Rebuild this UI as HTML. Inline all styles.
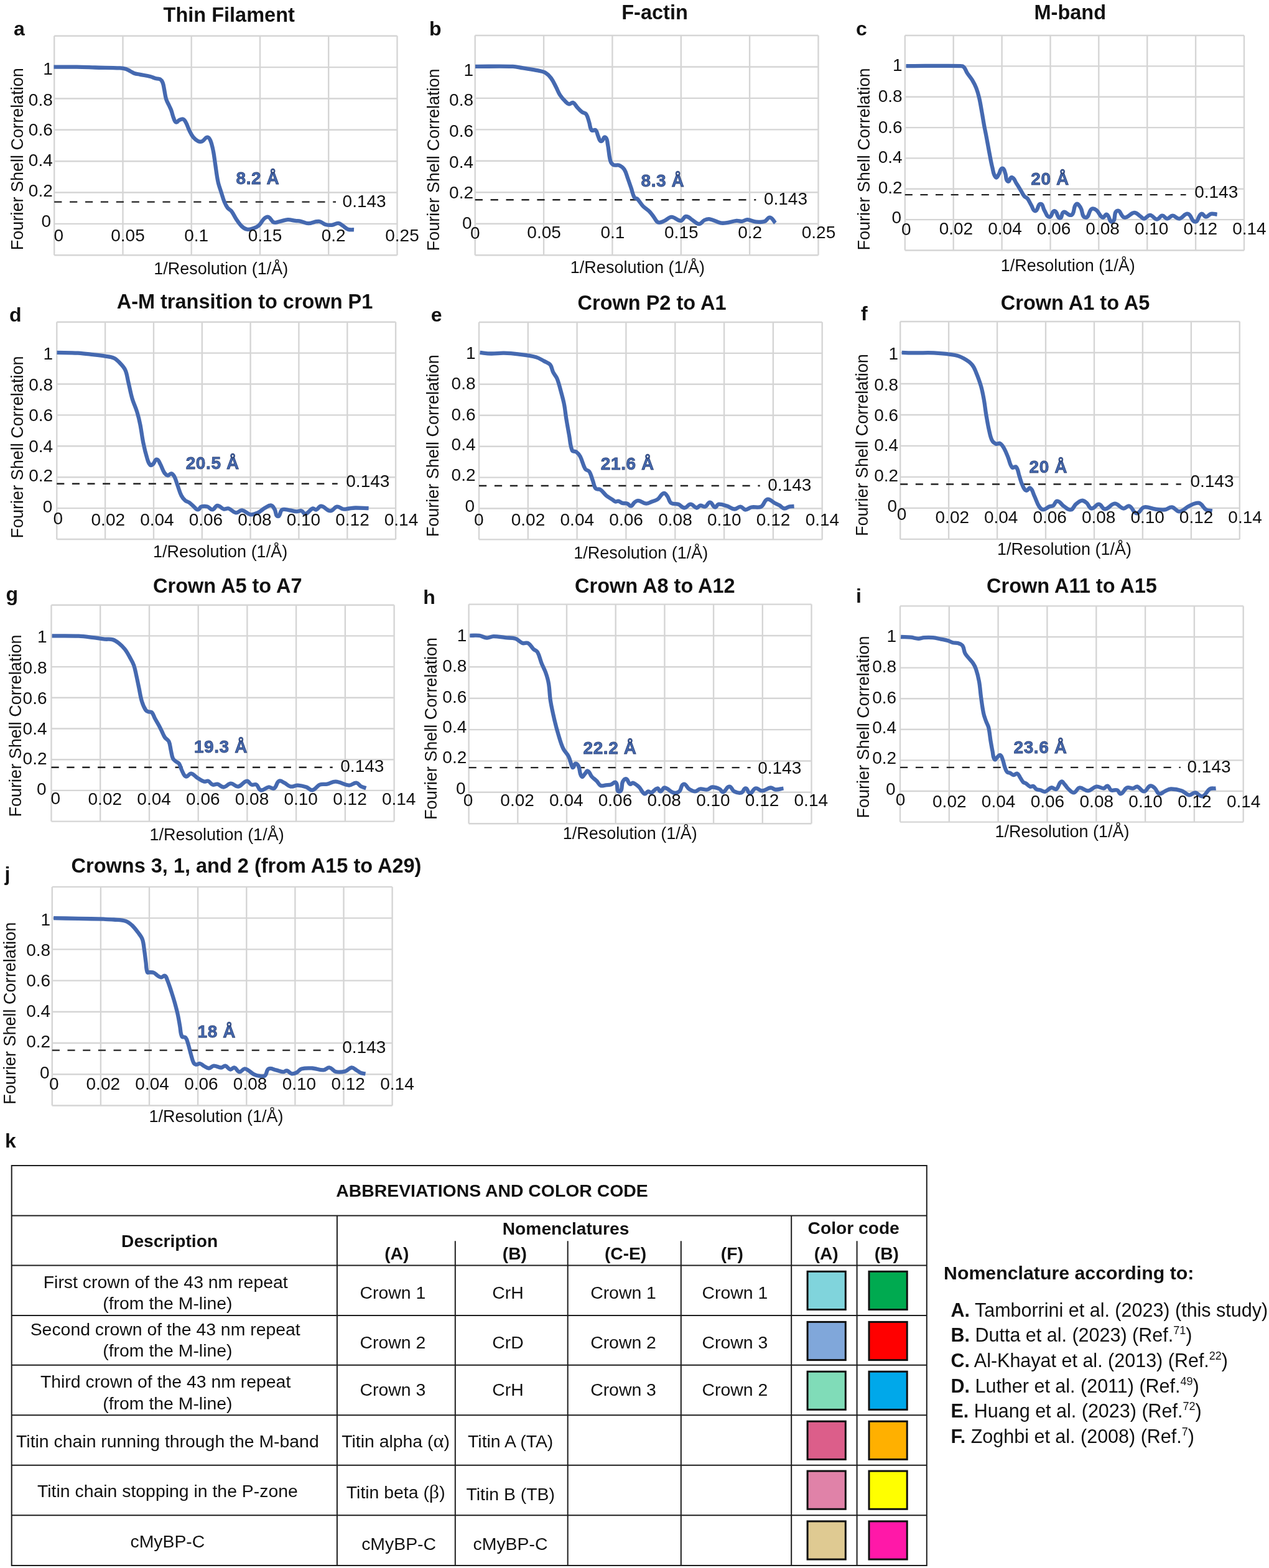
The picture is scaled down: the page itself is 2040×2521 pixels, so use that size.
<!DOCTYPE html>
<html><head><meta charset="utf-8"><title>FSC curves and nomenclature</title>
<style>
html,body{margin:0;padding:0;background:#fff;}
body{width:2040px;height:2521px;overflow:hidden;}
svg{display:block;font-family:'Liberation Sans', Arial, Helvetica, sans-serif;}
</style></head><body>
<svg width="2040" height="2521" viewBox="0 0 2040 2521">
<rect width="2040" height="2521" fill="#fff"/>
<g stroke="#d5d5d5" stroke-width="2.4" fill="none">
<line x1="87.2" y1="57.8" x2="87.2" y2="410.2"/>
<line x1="197.5" y1="57.8" x2="197.5" y2="410.2"/>
<line x1="307.7" y1="57.8" x2="307.7" y2="410.2"/>
<line x1="418.0" y1="57.8" x2="418.0" y2="410.2"/>
<line x1="528.2" y1="57.8" x2="528.2" y2="410.2"/>
<line x1="638.5" y1="57.8" x2="638.5" y2="410.2"/>
<line x1="87.2" y1="57.8" x2="638.5" y2="57.8"/>
<line x1="87.2" y1="108.1" x2="638.5" y2="108.1"/>
<line x1="87.2" y1="158.5" x2="638.5" y2="158.5"/>
<line x1="87.2" y1="208.8" x2="638.5" y2="208.8"/>
<line x1="87.2" y1="259.2" x2="638.5" y2="259.2"/>
<line x1="87.2" y1="309.5" x2="638.5" y2="309.5"/>
<line x1="87.2" y1="359.9" x2="638.5" y2="359.9"/>
<line x1="87.2" y1="410.2" x2="638.5" y2="410.2"/>
</g>
<line x1="87.2" y1="324.6" x2="540.0" y2="324.6" stroke="#222" stroke-width="2.4" stroke-dasharray="12.20 12.69"/>
<path d="M86.5,107.7 C99.8,107.7 110.2,107.5 123.5,107.7 C134.0,107.8 142.1,108.2 152.6,108.5 C167.1,108.9 178.4,108.7 192.9,109.4 C196.4,109.6 199.2,110.0 202.6,111.0 C205.1,111.7 206.7,113.0 209.0,114.2 C211.4,115.4 213.0,116.8 215.5,117.7 C218.9,118.9 221.7,119.1 225.2,119.8 C231.0,121.0 235.6,121.6 241.3,123.0 C244.9,123.9 247.4,125.3 251.0,126.3 C253.3,126.9 255.4,126.2 257.4,127.4 C259.5,128.7 260.6,130.5 261.5,132.7 C263.0,136.3 263.1,139.4 263.9,143.2 C265.1,149.0 265.4,153.7 267.1,159.4 C268.3,163.3 270.2,166.1 271.9,169.8 C273.1,172.4 274.2,174.4 275.2,177.1 C276.9,181.7 277.3,185.5 279.2,190.0 C280.2,192.5 280.6,195.6 283.2,196.5 C285.2,197.2 286.1,194.0 288.0,193.2 C290.2,192.2 292.3,190.7 294.5,191.6 C297.2,192.7 298.0,195.5 299.4,198.0 C301.5,201.9 302.2,205.4 304.2,209.4 C306.3,213.6 307.7,217.0 310.6,220.6 C313.0,223.5 315.3,225.6 318.7,227.1 C320.8,228.1 323.1,228.1 325.2,227.1 C328.6,225.6 329.5,221.1 333.2,220.6 C335.7,220.3 337.1,223.2 338.1,225.5 C340.7,231.6 341.6,236.7 342.9,243.2 C344.4,250.7 344.9,256.6 346.1,264.2 C347.6,274.1 348.3,282.0 350.4,291.8 C351.7,298.2 353.7,302.9 355.6,309.1 C357.4,314.7 358.5,319.2 360.7,324.7 C362.2,328.3 363.5,331.1 365.9,334.2 C367.7,336.5 370.3,337.1 372.0,339.4 C375.3,343.7 376.7,347.8 379.7,352.3 C382.6,356.6 384.7,360.1 388.4,363.6 C391.0,366.1 393.5,368.1 397.0,368.7 C400.7,369.4 403.8,368.1 407.4,367.0 C410.7,366.0 413.4,365.0 416.0,362.7 C419.8,359.3 420.9,354.9 424.7,351.5 C426.7,349.7 429.1,347.9 431.6,348.9 C435.7,350.5 436.1,356.0 440.2,357.5 C443.8,358.8 446.9,356.5 450.6,355.8 C455.0,355.0 458.2,353.4 462.7,353.2 C467.1,353.0 470.4,354.4 474.8,354.9 C477.9,355.3 480.4,355.2 483.4,355.8 C487.8,356.7 491.0,359.2 495.5,359.2 C501.8,359.2 506.5,355.4 512.8,355.8 C517.0,356.1 519.2,359.8 523.2,361.0 C526.8,362.0 529.8,362.2 533.5,361.8 C537.4,361.4 540.0,358.7 543.9,358.9 C546.7,359.0 548.4,361.2 550.8,362.7 C554.0,364.7 555.9,367.4 559.5,368.7 C562.7,369.9 565.6,369.1 569.0,369.3" fill="none" stroke="#4569b0" stroke-width="6.3" stroke-linejoin="round" stroke-linecap="butt"/>
<text x="84.8" y="119.5" font-size="28" text-anchor="end" fill="#111">1</text>
<text x="84.8" y="169.5" font-size="28" text-anchor="end" fill="#111">0.8</text>
<text x="84.8" y="218.0" font-size="28" text-anchor="end" fill="#111">0.6</text>
<text x="84.8" y="266.5" font-size="28" text-anchor="end" fill="#111">0.4</text>
<text x="84.8" y="315.5" font-size="28" text-anchor="end" fill="#111">0.2</text>
<text x="82.0" y="364.9" font-size="28" text-anchor="end" fill="#111">0</text>
<text x="94.3" y="388.0" font-size="28" text-anchor="middle" fill="#111">0</text>
<text x="205.5" y="388.1" font-size="28" text-anchor="middle" fill="#111">0.05</text>
<text x="315.7" y="388.1" font-size="28" text-anchor="middle" fill="#111">0.1</text>
<text x="426.0" y="388.1" font-size="28" text-anchor="middle" fill="#111">0.15</text>
<text x="536.2" y="388.1" font-size="28" text-anchor="middle" fill="#111">0.2</text>
<text x="646.5" y="388.1" font-size="28" text-anchor="middle" fill="#111">0.25</text>
<text transform="translate(37.2,255.7) rotate(-90)" font-size="28.3" textLength="293" lengthAdjust="spacingAndGlyphs" text-anchor="middle" fill="#111">Fourier Shell Correlation</text>
<text x="355.3" y="441.4" font-size="27" text-anchor="middle" fill="#111">1/Resolution (1/Å)</text>
<text x="368.2" y="35.3" font-size="32.5" font-weight="700" text-anchor="middle" fill="#111">Thin Filament</text>
<text x="22.0" y="57.0" font-size="32" font-weight="700" text-anchor="start" fill="#111">a</text>
<text x="379.5" y="296.2" font-size="28" font-weight="700" text-anchor="start" fill="#4569b0" stroke="#2a3f70" stroke-width="0.8" letter-spacing="0.6">8.2 Å</text>
<text x="550.6" y="333.3" font-size="28" text-anchor="start" fill="#111">0.143</text>
<g stroke="#d5d5d5" stroke-width="2.4" fill="none">
<line x1="763.7" y1="57.0" x2="763.7" y2="410.2"/>
<line x1="874.1" y1="57.0" x2="874.1" y2="410.2"/>
<line x1="984.4" y1="57.0" x2="984.4" y2="410.2"/>
<line x1="1094.8" y1="57.0" x2="1094.8" y2="410.2"/>
<line x1="1205.1" y1="57.0" x2="1205.1" y2="410.2"/>
<line x1="1315.5" y1="57.0" x2="1315.5" y2="410.2"/>
<line x1="763.7" y1="57.0" x2="1315.5" y2="57.0"/>
<line x1="763.7" y1="107.5" x2="1315.5" y2="107.5"/>
<line x1="763.7" y1="157.9" x2="1315.5" y2="157.9"/>
<line x1="763.7" y1="208.4" x2="1315.5" y2="208.4"/>
<line x1="763.7" y1="258.8" x2="1315.5" y2="258.8"/>
<line x1="763.7" y1="309.3" x2="1315.5" y2="309.3"/>
<line x1="763.7" y1="359.7" x2="1315.5" y2="359.7"/>
<line x1="763.7" y1="410.2" x2="1315.5" y2="410.2"/>
</g>
<line x1="763.7" y1="321.2" x2="1215.3" y2="321.2" stroke="#222" stroke-width="2.4" stroke-dasharray="12.21 12.71"/>
<path d="M764.0,106.9 C785.8,106.9 802.7,106.2 824.5,106.9 C830.4,107.1 834.8,108.5 840.6,109.4 C849.3,110.8 856.1,111.6 864.8,113.4 C868.9,114.2 872.4,114.5 876.1,116.6 C880.2,119.0 882.9,121.7 885.8,125.5 C889.4,130.3 891.1,134.7 893.9,140.0 C896.3,144.6 897.5,148.5 900.3,152.9 C902.8,156.7 905.2,159.4 908.4,162.6 C910.4,164.6 912.0,166.9 914.8,167.4 C917.3,167.9 919.0,164.1 921.3,165.0 C924.6,166.2 925.3,169.8 927.7,172.3 C930.5,175.3 932.5,177.8 935.8,180.3 C937.9,181.9 940.8,181.4 942.3,183.5 C945.2,187.6 945.5,191.8 947.1,196.5 C948.7,201.1 948.0,205.6 951.1,209.4 C952.6,211.2 955.9,207.8 957.6,209.4 C960.4,211.9 959.9,215.7 961.6,219.0 C963.1,222.0 963.1,226.6 966.5,227.1 C969.8,227.6 969.9,219.2 972.9,220.6 C976.8,222.4 976.0,227.7 976.9,231.9 C978.9,241.1 978.6,248.6 981.0,257.7 C981.8,260.7 983.1,263.5 985.8,265.0 C988.9,266.7 992.3,264.5 995.5,265.8 C998.9,267.2 1001.5,269.2 1003.5,272.3 C1006.6,277.0 1007.3,281.5 1009.2,286.8 C1011.3,292.6 1012.8,297.1 1014.8,302.9 C1016.6,308.1 1017.0,312.6 1019.7,317.4 C1020.7,319.1 1023.1,318.4 1024.5,319.8 C1028.3,323.6 1030.0,327.7 1033.8,331.6 C1037.2,335.1 1040.8,336.8 1044.2,340.2 C1047.0,343.0 1048.6,345.8 1051.1,348.9 C1053.6,352.0 1054.2,356.2 1058.0,357.5 C1061.6,358.8 1064.8,356.3 1068.4,354.9 C1072.6,353.2 1075.0,348.9 1079.6,348.9 C1085.3,348.9 1088.6,355.1 1094.3,354.9 C1098.3,354.7 1098.9,348.2 1102.9,348.0 C1107.2,347.8 1109.6,351.8 1113.3,354.0 C1117.1,356.2 1119.4,360.1 1123.7,360.1 C1127.5,360.1 1128.8,355.6 1132.3,354.0 C1135.2,352.7 1137.9,351.8 1141.0,352.3 C1147.5,353.4 1151.8,356.9 1158.2,358.4 C1161.2,359.1 1163.8,358.8 1166.9,358.4 C1173.2,357.6 1177.9,355.5 1184.2,354.9 C1187.3,354.6 1189.7,356.1 1192.8,355.8 C1196.0,355.5 1198.2,353.1 1201.4,353.2 C1206.5,353.4 1210.2,356.1 1215.3,356.6 C1220.2,357.1 1224.3,357.6 1229.1,356.1 C1232.8,355.0 1233.9,349.2 1237.7,349.7 C1242.1,350.3 1243.3,355.3 1246.4,358.4" fill="none" stroke="#4569b0" stroke-width="6.3" stroke-linejoin="round" stroke-linecap="butt"/>
<text x="761.0" y="121.8" font-size="28" text-anchor="end" fill="#111">1</text>
<text x="761.0" y="170.3" font-size="28" text-anchor="end" fill="#111">0.8</text>
<text x="761.0" y="220.3" font-size="28" text-anchor="end" fill="#111">0.6</text>
<text x="761.0" y="269.5" font-size="28" text-anchor="end" fill="#111">0.4</text>
<text x="761.0" y="318.7" font-size="28" text-anchor="end" fill="#111">0.2</text>
<text x="758.6" y="367.5" font-size="28" text-anchor="end" fill="#111">0</text>
<text x="763.7" y="383.9" font-size="28" text-anchor="middle" fill="#111">0</text>
<text x="874.6" y="382.9" font-size="28" text-anchor="middle" fill="#111">0.05</text>
<text x="984.9" y="382.9" font-size="28" text-anchor="middle" fill="#111">0.1</text>
<text x="1095.3" y="382.9" font-size="28" text-anchor="middle" fill="#111">0.15</text>
<text x="1205.6" y="382.9" font-size="28" text-anchor="middle" fill="#111">0.2</text>
<text x="1316.0" y="382.9" font-size="28" text-anchor="middle" fill="#111">0.25</text>
<text transform="translate(706.4,256.9) rotate(-90)" font-size="28.3" textLength="293" lengthAdjust="spacingAndGlyphs" text-anchor="middle" fill="#111">Fourier Shell Correlation</text>
<text x="1024.9" y="439.4" font-size="27" text-anchor="middle" fill="#111">1/Resolution (1/Å)</text>
<text x="1052.5" y="31.3" font-size="32.5" font-weight="700" text-anchor="middle" fill="#111">F-actin</text>
<text x="690.0" y="57.0" font-size="32" font-weight="700" text-anchor="start" fill="#111">b</text>
<text x="1030.5" y="299.6" font-size="28" font-weight="700" text-anchor="start" fill="#4569b0" stroke="#2a3f70" stroke-width="0.8" letter-spacing="0.6">8.3 Å</text>
<text x="1227.9" y="329.0" font-size="28" text-anchor="start" fill="#111">0.143</text>
<g stroke="#d5d5d5" stroke-width="2.4" fill="none">
<line x1="1454.8" y1="57.0" x2="1454.8" y2="402.5"/>
<line x1="1532.7" y1="57.0" x2="1532.7" y2="402.5"/>
<line x1="1610.6" y1="57.0" x2="1610.6" y2="402.5"/>
<line x1="1688.5" y1="57.0" x2="1688.5" y2="402.5"/>
<line x1="1766.3" y1="57.0" x2="1766.3" y2="402.5"/>
<line x1="1844.2" y1="57.0" x2="1844.2" y2="402.5"/>
<line x1="1922.1" y1="57.0" x2="1922.1" y2="402.5"/>
<line x1="2000.0" y1="57.0" x2="2000.0" y2="402.5"/>
<line x1="1454.8" y1="57.0" x2="2000.0" y2="57.0"/>
<line x1="1454.8" y1="106.4" x2="2000.0" y2="106.4"/>
<line x1="1454.8" y1="155.7" x2="2000.0" y2="155.7"/>
<line x1="1454.8" y1="205.1" x2="2000.0" y2="205.1"/>
<line x1="1454.8" y1="254.4" x2="2000.0" y2="254.4"/>
<line x1="1454.8" y1="303.8" x2="2000.0" y2="303.8"/>
<line x1="1454.8" y1="353.1" x2="2000.0" y2="353.1"/>
<line x1="1454.8" y1="402.5" x2="2000.0" y2="402.5"/>
</g>
<line x1="1454.8" y1="313.1" x2="1906.6" y2="313.1" stroke="#222" stroke-width="2.4" stroke-dasharray="12.06 12.55"/>
<path d="M1456.5,106.1 C1488.4,106.1 1513.3,105.3 1545.2,106.1 C1547.1,106.1 1548.7,107.0 1550.0,108.5 C1552.4,111.3 1552.8,114.3 1554.8,117.4 C1557.5,121.6 1560.3,124.4 1562.9,128.7 C1565.6,133.2 1567.5,136.8 1569.4,141.6 C1571.6,147.2 1572.8,151.8 1574.2,157.7 C1576.3,166.9 1577.3,174.2 1579.0,183.5 C1580.2,190.5 1581.0,195.9 1582.3,202.9 C1583.4,208.7 1584.4,213.2 1585.5,219.0 C1587.3,228.3 1588.5,235.5 1590.3,244.8 C1592.0,253.5 1593.0,260.4 1595.2,269.0 C1596.8,275.0 1596.6,280.7 1600.8,285.2 C1602.5,287.0 1604.2,282.3 1605.6,280.3 C1608.0,277.0 1607.3,271.2 1611.3,270.6 C1614.7,270.1 1614.8,275.6 1616.1,278.7 C1618.0,283.2 1616.1,289.0 1620.2,291.6 C1623.0,293.3 1623.4,284.5 1626.6,285.2 C1630.8,286.2 1631.5,291.2 1633.9,294.8 C1637.0,299.3 1639.0,303.0 1641.9,307.7 C1643.7,310.6 1644.6,313.2 1646.8,315.8 C1648.2,317.4 1650.3,317.4 1651.6,319.0 C1654.5,322.7 1655.6,326.3 1658.1,330.3 C1660.2,333.6 1660.6,339.8 1664.5,339.2 C1669.4,338.4 1667.6,328.2 1672.6,327.9 C1677.0,327.7 1676.5,334.8 1679.0,338.4 C1681.7,342.3 1682.3,348.7 1687.1,348.9 C1691.6,349.1 1690.7,338.7 1695.2,339.2 C1700.4,339.8 1698.7,350.1 1703.9,350.7 C1708.0,351.2 1705.9,342.1 1709.8,340.9 C1713.6,339.7 1715.7,345.0 1719.6,345.8 C1721.5,346.2 1723.5,345.4 1724.5,343.8 C1727.6,338.6 1725.6,331.8 1730.4,328.1 C1733.0,326.1 1735.4,331.3 1737.2,334.0 C1740.7,339.2 1738.7,349.0 1745.0,349.7 C1751.0,350.4 1749.8,339.4 1754.8,336.0 C1757.2,334.4 1760.4,336.1 1762.7,337.9 C1767.1,341.3 1767.4,347.6 1772.5,349.7 C1775.3,350.9 1776.5,343.6 1779.3,344.8 C1784.1,346.9 1783.1,358.3 1788.1,356.5 C1794.6,354.2 1789.4,341.2 1796.0,338.9 C1801.4,337.0 1802.0,349.1 1807.7,349.7 C1814.0,350.4 1817.1,342.3 1823.4,341.8 C1827.5,341.5 1829.7,345.5 1833.2,347.7 C1835.4,349.0 1836.6,351.9 1839.1,351.6 C1843.1,351.1 1844.7,345.6 1848.8,345.8 C1853.4,346.0 1855.0,352.4 1859.6,352.6 C1863.4,352.8 1864.6,346.9 1868.4,346.7 C1871.7,346.5 1873.0,351.6 1876.3,351.6 C1879.9,351.6 1881.5,346.7 1885.1,346.7 C1889.3,346.7 1891.6,352.1 1895.8,351.6 C1901.5,350.9 1904.0,342.7 1909.6,343.8 C1915.7,345.0 1915.1,356.5 1921.3,356.5 C1927.1,356.5 1925.8,346.1 1931.1,343.8 C1934.1,342.5 1935.6,348.7 1938.9,348.7 C1942.2,348.7 1943.5,344.5 1946.8,343.8 C1950.3,343.0 1953.1,344.4 1956.6,344.8" fill="none" stroke="#4569b0" stroke-width="6.3" stroke-linejoin="round" stroke-linecap="butt"/>
<text x="1450.6" y="114.4" font-size="28" text-anchor="end" fill="#111">1</text>
<text x="1450.6" y="164.3" font-size="28" text-anchor="end" fill="#111">0.8</text>
<text x="1450.6" y="213.5" font-size="28" text-anchor="end" fill="#111">0.6</text>
<text x="1450.6" y="261.8" font-size="28" text-anchor="end" fill="#111">0.4</text>
<text x="1450.6" y="311.0" font-size="28" text-anchor="end" fill="#111">0.2</text>
<text x="1449.0" y="359.3" font-size="28" text-anchor="end" fill="#111">0</text>
<text x="1456.8" y="377.6" font-size="28" text-anchor="middle" fill="#111">0</text>
<text x="1536.9" y="376.6" font-size="28" text-anchor="middle" fill="#111">0.02</text>
<text x="1615.5" y="376.6" font-size="28" text-anchor="middle" fill="#111">0.04</text>
<text x="1694.1" y="376.6" font-size="28" text-anchor="middle" fill="#111">0.06</text>
<text x="1772.6" y="376.6" font-size="28" text-anchor="middle" fill="#111">0.08</text>
<text x="1851.2" y="376.6" font-size="28" text-anchor="middle" fill="#111">0.10</text>
<text x="1929.8" y="376.6" font-size="28" text-anchor="middle" fill="#111">0.12</text>
<text x="2008.4" y="376.6" font-size="28" text-anchor="middle" fill="#111">0.14</text>
<text transform="translate(1398.3,256.0) rotate(-90)" font-size="28.3" textLength="293" lengthAdjust="spacingAndGlyphs" text-anchor="middle" fill="#111">Fourier Shell Correlation</text>
<text x="1716.8" y="435.5" font-size="27" text-anchor="middle" fill="#111">1/Resolution (1/Å)</text>
<text x="1720.3" y="31.3" font-size="32.5" font-weight="700" text-anchor="middle" fill="#111">M-band</text>
<text x="1376.0" y="57.0" font-size="32" font-weight="700" text-anchor="start" fill="#111">c</text>
<text x="1657.3" y="296.5" font-size="28" font-weight="700" text-anchor="start" fill="#4569b0" stroke="#2a3f70" stroke-width="0.8" letter-spacing="0.6">20 Å</text>
<text x="1920.2" y="318.3" font-size="28" text-anchor="start" fill="#111">0.143</text>
<g stroke="#d5d5d5" stroke-width="2.4" fill="none">
<line x1="91.3" y1="517.7" x2="91.3" y2="867.0"/>
<line x1="169.1" y1="517.7" x2="169.1" y2="867.0"/>
<line x1="247.0" y1="517.7" x2="247.0" y2="867.0"/>
<line x1="324.8" y1="517.7" x2="324.8" y2="867.0"/>
<line x1="402.6" y1="517.7" x2="402.6" y2="867.0"/>
<line x1="480.4" y1="517.7" x2="480.4" y2="867.0"/>
<line x1="558.3" y1="517.7" x2="558.3" y2="867.0"/>
<line x1="636.1" y1="517.7" x2="636.1" y2="867.0"/>
<line x1="91.3" y1="517.7" x2="636.1" y2="517.7"/>
<line x1="91.3" y1="567.6" x2="636.1" y2="567.6"/>
<line x1="91.3" y1="617.5" x2="636.1" y2="617.5"/>
<line x1="91.3" y1="667.4" x2="636.1" y2="667.4"/>
<line x1="91.3" y1="717.3" x2="636.1" y2="717.3"/>
<line x1="91.3" y1="767.2" x2="636.1" y2="767.2"/>
<line x1="91.3" y1="817.1" x2="636.1" y2="817.1"/>
<line x1="91.3" y1="867.0" x2="636.1" y2="867.0"/>
</g>
<line x1="91.3" y1="777.8" x2="542.7" y2="777.8" stroke="#222" stroke-width="2.4" stroke-dasharray="12.05 12.54"/>
<path d="M91.5,566.9 C103.7,567.2 113.1,567.0 125.3,567.7 C134.0,568.2 140.8,569.2 149.5,570.2 C156.5,571.0 162.0,571.5 168.9,572.6 C174.2,573.5 178.5,573.7 183.4,575.8 C186.8,577.3 188.9,579.6 191.5,582.3 C195.3,586.3 198.7,589.4 201.1,594.4 C204.1,600.6 204.4,606.2 206.0,612.9 C208.4,622.7 209.6,630.6 212.4,640.3 C214.8,648.6 218.0,654.6 220.5,662.9 C222.6,669.8 223.9,675.2 225.3,682.3 C227.4,692.7 228.1,700.9 230.2,711.3 C232.1,720.7 233.8,728.0 236.6,737.1 C237.8,741.1 238.4,744.8 241.5,747.6 C242.8,748.8 244.9,747.2 246.3,746.0 C248.8,743.8 248.6,738.7 251.9,738.7 C255.2,738.7 255.9,743.1 257.6,746.0 C260.3,750.7 261.0,755.1 264.0,759.7 C265.5,761.9 267.0,764.1 269.7,764.5 C272.0,764.8 273.0,761.0 275.3,761.3 C277.7,761.7 279.0,763.9 280.2,766.1 C282.6,770.4 283.3,774.3 285.0,779.0 C287.4,785.4 288.4,790.7 291.5,796.8 C293.1,800.1 295.1,802.4 297.9,804.8 C299.9,806.5 302.2,806.6 304.4,808.1 C306.9,809.8 308.4,811.8 310.8,813.7 C313.4,815.8 314.8,819.2 318.1,819.4 C320.8,819.6 321.1,815.3 323.7,814.5 C327.0,813.4 330.0,813.6 333.4,814.5 C336.7,815.4 338.1,819.7 341.5,819.4 C345.2,819.0 345.8,813.1 349.5,812.9 C353.7,812.7 355.6,817.5 359.6,818.5 C362.3,819.2 364.7,816.7 367.4,817.5 C372.1,818.9 374.3,823.7 379.2,824.4 C383.0,824.9 385.2,819.9 389.0,820.4 C394.5,821.1 397.2,826.4 402.7,827.3 C407.0,828.0 410.5,826.2 414.4,824.4 C419.0,822.3 421.7,819.0 426.2,816.5 C429.5,814.7 432.3,811.9 436.0,812.6 C439.2,813.2 440.1,816.7 441.8,819.5 C444.0,823.1 442.5,830.2 446.7,830.2 C451.3,830.2 449.5,821.6 453.6,819.5 C457.3,817.5 461.1,819.9 465.3,820.4 C469.6,820.9 472.8,822.2 477.1,822.4 C479.9,822.5 482.2,820.6 484.9,821.4 C487.6,822.2 488.1,826.9 490.8,826.3 C496.0,825.2 497.7,819.4 502.6,817.5 C504.7,816.7 506.3,820.1 508.4,819.5 C511.8,818.5 512.8,813.3 516.3,813.6 C522.3,814.1 525.0,821.2 531.0,821.4 C535.6,821.6 537.2,815.2 541.7,814.6 C545.5,814.1 547.7,817.9 551.5,818.5 C555.0,819.0 557.8,817.9 561.3,817.5 C564.8,817.1 567.6,816.5 571.1,816.5 C578.8,816.4 584.9,816.9 592.6,817.1" fill="none" stroke="#4569b0" stroke-width="6.3" stroke-linejoin="round" stroke-linecap="butt"/>
<text x="85.1" y="578.4" font-size="28" text-anchor="end" fill="#111">1</text>
<text x="85.1" y="627.6" font-size="28" text-anchor="end" fill="#111">0.8</text>
<text x="85.1" y="676.8" font-size="28" text-anchor="end" fill="#111">0.6</text>
<text x="85.1" y="726.8" font-size="28" text-anchor="end" fill="#111">0.4</text>
<text x="85.1" y="774.4" font-size="28" text-anchor="end" fill="#111">0.2</text>
<text x="84.4" y="823.6" font-size="28" text-anchor="end" fill="#111">0</text>
<text x="93.2" y="842.7" font-size="28" text-anchor="middle" fill="#111">0</text>
<text x="173.8" y="845.4" font-size="28" text-anchor="middle" fill="#111">0.02</text>
<text x="252.4" y="845.4" font-size="28" text-anchor="middle" fill="#111">0.04</text>
<text x="330.9" y="845.4" font-size="28" text-anchor="middle" fill="#111">0.06</text>
<text x="409.4" y="845.4" font-size="28" text-anchor="middle" fill="#111">0.08</text>
<text x="487.9" y="845.4" font-size="28" text-anchor="middle" fill="#111">0.10</text>
<text x="566.5" y="845.4" font-size="28" text-anchor="middle" fill="#111">0.12</text>
<text x="645.0" y="845.4" font-size="28" text-anchor="middle" fill="#111">0.14</text>
<text transform="translate(36.9,719.0) rotate(-90)" font-size="28.3" textLength="293" lengthAdjust="spacingAndGlyphs" text-anchor="middle" fill="#111">Fourier Shell Correlation</text>
<text x="354.1" y="895.5" font-size="27" text-anchor="middle" fill="#111">1/Resolution (1/Å)</text>
<text x="393.5" y="496.0" font-size="32.5" font-weight="700" text-anchor="middle" fill="#111">A-M transition to crown P1</text>
<text x="15.0" y="517.0" font-size="32" font-weight="700" text-anchor="start" fill="#111">d</text>
<text x="298.7" y="754.0" font-size="28" font-weight="700" text-anchor="start" fill="#4569b0" stroke="#2a3f70" stroke-width="0.8" letter-spacing="0.6">20.5 Å</text>
<text x="556.3" y="783.2" font-size="28" text-anchor="start" fill="#111">0.143</text>
<g stroke="#d5d5d5" stroke-width="2.4" fill="none">
<line x1="770.0" y1="518.0" x2="770.0" y2="867.4"/>
<line x1="848.8" y1="518.0" x2="848.8" y2="867.4"/>
<line x1="927.6" y1="518.0" x2="927.6" y2="867.4"/>
<line x1="1006.4" y1="518.0" x2="1006.4" y2="867.4"/>
<line x1="1085.3" y1="518.0" x2="1085.3" y2="867.4"/>
<line x1="1164.1" y1="518.0" x2="1164.1" y2="867.4"/>
<line x1="1242.9" y1="518.0" x2="1242.9" y2="867.4"/>
<line x1="1321.7" y1="518.0" x2="1321.7" y2="867.4"/>
<line x1="770.0" y1="518.0" x2="1321.7" y2="518.0"/>
<line x1="770.0" y1="567.9" x2="1321.7" y2="567.9"/>
<line x1="770.0" y1="617.8" x2="1321.7" y2="617.8"/>
<line x1="770.0" y1="667.7" x2="1321.7" y2="667.7"/>
<line x1="770.0" y1="717.7" x2="1321.7" y2="717.7"/>
<line x1="770.0" y1="767.6" x2="1321.7" y2="767.6"/>
<line x1="770.0" y1="817.5" x2="1321.7" y2="817.5"/>
<line x1="770.0" y1="867.4" x2="1321.7" y2="867.4"/>
</g>
<line x1="770.0" y1="781.0" x2="1221.7" y2="781.0" stroke="#222" stroke-width="2.4" stroke-dasharray="12.21 12.70"/>
<path d="M771.5,566.9 C777.9,567.5 782.8,568.4 789.2,568.5 C796.8,568.7 802.6,567.5 810.2,567.7 C818.3,567.9 824.6,568.4 832.7,569.4 C843.2,570.7 851.5,571.5 861.8,574.2 C866.8,575.5 870.1,578.2 874.7,580.6 C878.3,582.5 881.8,583.2 884.4,586.3 C887.4,589.9 887.1,594.2 889.2,598.4 C891.2,602.4 894.0,604.8 895.6,608.9 C898.6,616.5 899.9,622.7 902.1,630.6 C904.0,637.5 905.5,642.9 906.9,650.0 C908.5,658.1 908.9,664.5 910.2,672.6 C911.8,682.5 913.2,690.2 915.0,700.0 C916.6,708.7 916.3,716.0 919.8,724.2 C920.8,726.5 924.3,725.1 926.3,726.6 C929.1,728.7 931.1,730.8 932.7,733.9 C936.3,740.8 936.8,747.3 940.8,754.0 C942.2,756.4 945.8,755.8 947.3,758.1 C950.4,762.8 950.9,767.4 952.9,772.6 C954.7,777.2 954.5,781.7 957.7,785.5 C959.4,787.6 962.8,785.6 965.0,787.1 C969.1,789.8 970.9,793.6 974.7,796.8 C977.9,799.5 980.9,800.9 984.4,803.2 C986.1,804.4 987.2,806.0 989.2,806.5 C990.9,806.9 992.3,805.2 994.0,805.6 C996.6,806.1 998.0,808.2 1000.5,808.9 C1003.3,809.7 1005.8,808.7 1008.5,809.7 C1010.9,810.5 1011.7,814.1 1014.2,813.7 C1017.2,813.2 1017.6,809.5 1020.0,807.7 C1021.9,806.3 1023.5,804.5 1025.9,804.8 C1030.8,805.3 1033.7,809.3 1038.6,809.7 C1041.9,810.0 1044.3,807.9 1047.4,806.7 C1051.0,805.4 1054.1,805.0 1057.2,802.8 C1061.3,799.9 1062.2,794.5 1067.0,793.0 C1069.6,792.2 1071.2,795.7 1072.9,797.9 C1075.6,801.4 1075.2,806.1 1078.8,808.7 C1082.3,811.2 1086.5,809.2 1090.5,810.7 C1094.4,812.1 1096.2,816.5 1100.3,816.5 C1104.4,816.5 1106.0,810.7 1110.1,810.7 C1114.2,810.7 1115.8,816.0 1119.9,816.5 C1122.4,816.8 1123.3,812.9 1125.8,812.6 C1128.7,812.2 1130.8,815.5 1133.6,814.6 C1137.2,813.5 1137.7,807.5 1141.4,807.7 C1145.4,807.9 1145.4,814.6 1149.3,815.5 C1151.9,816.1 1152.4,811.0 1155.1,810.7 C1160.1,810.2 1164.0,812.1 1168.8,813.6 C1173.2,814.9 1176.0,818.3 1180.6,818.5 C1184.4,818.7 1186.6,814.4 1190.4,814.6 C1193.7,814.8 1194.9,819.3 1198.2,819.5 C1202.0,819.7 1204.3,816.2 1208.0,815.5 C1213.6,814.4 1218.6,817.1 1223.7,814.6 C1228.6,812.1 1228.2,804.3 1233.5,802.8 C1238.0,801.6 1241.0,806.6 1245.2,808.7 C1248.0,810.1 1250.3,811.0 1253.1,812.6 C1256.0,814.2 1257.6,817.1 1260.9,817.5 C1263.9,817.9 1265.8,815.3 1268.7,814.6 C1271.5,814.0 1273.8,814.2 1276.6,814.0" fill="none" stroke="#4569b0" stroke-width="6.3" stroke-linejoin="round" stroke-linecap="butt"/>
<text x="764.5" y="576.8" font-size="28" text-anchor="end" fill="#111">1</text>
<text x="764.5" y="625.9" font-size="28" text-anchor="end" fill="#111">0.8</text>
<text x="764.5" y="675.9" font-size="28" text-anchor="end" fill="#111">0.6</text>
<text x="764.5" y="724.2" font-size="28" text-anchor="end" fill="#111">0.4</text>
<text x="764.5" y="772.6" font-size="28" text-anchor="end" fill="#111">0.2</text>
<text x="763.0" y="822.5" font-size="28" text-anchor="end" fill="#111">0</text>
<text x="769.9" y="844.7" font-size="28" text-anchor="middle" fill="#111">0</text>
<text x="849.0" y="845.4" font-size="28" text-anchor="middle" fill="#111">0.02</text>
<text x="927.8" y="845.4" font-size="28" text-anchor="middle" fill="#111">0.04</text>
<text x="1006.6" y="845.4" font-size="28" text-anchor="middle" fill="#111">0.06</text>
<text x="1085.5" y="845.4" font-size="28" text-anchor="middle" fill="#111">0.08</text>
<text x="1164.3" y="845.4" font-size="28" text-anchor="middle" fill="#111">0.10</text>
<text x="1243.1" y="845.4" font-size="28" text-anchor="middle" fill="#111">0.12</text>
<text x="1321.9" y="845.4" font-size="28" text-anchor="middle" fill="#111">0.14</text>
<text transform="translate(705.2,716.8) rotate(-90)" font-size="28.3" textLength="293" lengthAdjust="spacingAndGlyphs" text-anchor="middle" fill="#111">Fourier Shell Correlation</text>
<text x="1030.3" y="897.5" font-size="27" text-anchor="middle" fill="#111">1/Resolution (1/Å)</text>
<text x="1048.0" y="498.0" font-size="32.5" font-weight="700" text-anchor="middle" fill="#111">Crown P2 to A1</text>
<text x="692.8" y="517.0" font-size="32" font-weight="700" text-anchor="start" fill="#111">e</text>
<text x="965.8" y="754.8" font-size="28" font-weight="700" text-anchor="start" fill="#4569b0" stroke="#2a3f70" stroke-width="0.8" letter-spacing="0.6">21.6 Å</text>
<text x="1234.3" y="789.1" font-size="28" text-anchor="start" fill="#111">0.143</text>
<g stroke="#d5d5d5" stroke-width="2.4" fill="none">
<line x1="1447.2" y1="517.0" x2="1447.2" y2="866.9"/>
<line x1="1525.1" y1="517.0" x2="1525.1" y2="866.9"/>
<line x1="1603.1" y1="517.0" x2="1603.1" y2="866.9"/>
<line x1="1681.0" y1="517.0" x2="1681.0" y2="866.9"/>
<line x1="1759.0" y1="517.0" x2="1759.0" y2="866.9"/>
<line x1="1836.9" y1="517.0" x2="1836.9" y2="866.9"/>
<line x1="1914.9" y1="517.0" x2="1914.9" y2="866.9"/>
<line x1="1992.8" y1="517.0" x2="1992.8" y2="866.9"/>
<line x1="1447.2" y1="517.0" x2="1992.8" y2="517.0"/>
<line x1="1447.2" y1="567.0" x2="1992.8" y2="567.0"/>
<line x1="1447.2" y1="617.0" x2="1992.8" y2="617.0"/>
<line x1="1447.2" y1="667.0" x2="1992.8" y2="667.0"/>
<line x1="1447.2" y1="716.9" x2="1992.8" y2="716.9"/>
<line x1="1447.2" y1="766.9" x2="1992.8" y2="766.9"/>
<line x1="1447.2" y1="816.9" x2="1992.8" y2="816.9"/>
<line x1="1447.2" y1="866.9" x2="1992.8" y2="866.9"/>
</g>
<line x1="1447.2" y1="778.5" x2="1898.8" y2="778.5" stroke="#222" stroke-width="2.4" stroke-dasharray="12.07 12.56"/>
<path d="M1449.7,566.9 C1457.8,567.1 1464.2,567.3 1472.3,567.4 C1482.7,567.5 1490.9,566.8 1501.3,567.4 C1513.6,568.1 1523.1,568.7 1535.2,571.0 C1540.7,572.0 1544.8,573.9 1549.7,576.6 C1554.8,579.4 1558.7,581.9 1562.6,586.3 C1565.9,590.0 1567.1,593.9 1569.0,598.4 C1572.3,606.4 1574.7,612.7 1577.1,621.0 C1579.4,629.0 1580.4,635.3 1581.9,643.5 C1583.4,651.6 1583.8,658.0 1585.2,666.1 C1586.8,675.4 1587.9,682.7 1590.0,691.9 C1591.4,697.8 1592.0,702.7 1594.8,708.1 C1596.2,710.8 1598.4,712.6 1601.3,713.7 C1603.5,714.5 1605.7,711.8 1607.7,712.9 C1611.0,714.7 1612.3,717.8 1614.2,721.0 C1617.0,726.0 1618.4,730.2 1620.6,735.5 C1623.0,741.3 1623.1,746.8 1627.1,751.6 C1628.6,753.4 1632.0,749.1 1633.5,750.8 C1637.0,754.7 1636.7,759.5 1638.4,764.5 C1640.2,769.7 1640.9,774.0 1643.2,779.0 C1645.0,782.8 1645.9,787.0 1649.7,788.7 C1652.2,789.8 1653.8,783.3 1656.1,784.7 C1660.3,787.3 1660.4,792.4 1662.6,796.8 C1665.7,803.1 1666.8,808.6 1670.6,814.5 C1672.2,817.0 1674.2,819.4 1677.1,819.4 C1681.0,819.4 1683.2,816.0 1686.8,814.5 C1689.0,813.6 1691.2,814.2 1693.2,812.9 C1696.1,810.9 1696.2,805.5 1699.7,805.6 C1704.3,805.8 1705.9,811.1 1709.8,813.6 C1713.8,816.1 1716.8,820.2 1721.5,819.5 C1725.7,818.9 1726.1,813.4 1729.4,810.7 C1732.6,808.1 1735.1,805.3 1739.2,804.8 C1742.3,804.4 1744.6,806.7 1747.0,808.7 C1750.3,811.4 1750.6,817.1 1754.8,817.5 C1759.7,818.0 1761.7,810.5 1766.6,810.7 C1771.1,810.9 1771.9,818.7 1776.4,818.5 C1782.8,818.2 1785.6,809.9 1792.0,809.7 C1797.7,809.5 1800.2,816.6 1805.8,817.5 C1809.5,818.1 1812.0,812.3 1815.5,813.6 C1821.1,815.6 1821.3,824.8 1827.3,825.3 C1832.8,825.7 1833.7,816.7 1839.1,815.5 C1845.4,814.1 1850.3,817.7 1856.7,818.5 C1862.3,819.2 1866.7,820.1 1872.3,819.5 C1876.8,819.0 1879.6,815.0 1884.1,815.5 C1889.0,816.1 1890.9,822.7 1895.8,822.4 C1902.3,822.0 1905.6,816.2 1911.5,813.6 C1916.9,811.2 1921.4,807.5 1927.2,808.7 C1932.8,809.9 1934.0,816.6 1938.9,819.5 C1942.0,821.3 1945.2,820.7 1948.7,821.4" fill="none" stroke="#4569b0" stroke-width="6.3" stroke-linejoin="round" stroke-linecap="butt"/>
<text x="1444.2" y="577.6" font-size="28" text-anchor="end" fill="#111">1</text>
<text x="1444.2" y="627.5" font-size="28" text-anchor="end" fill="#111">0.8</text>
<text x="1444.2" y="676.7" font-size="28" text-anchor="end" fill="#111">0.6</text>
<text x="1444.2" y="725.0" font-size="28" text-anchor="end" fill="#111">0.4</text>
<text x="1444.2" y="774.2" font-size="28" text-anchor="end" fill="#111">0.2</text>
<text x="1442.0" y="823.3" font-size="28" text-anchor="end" fill="#111">0</text>
<text x="1449.6" y="836.0" font-size="28" text-anchor="middle" fill="#111">0</text>
<text x="1530.8" y="840.5" font-size="28" text-anchor="middle" fill="#111">0.02</text>
<text x="1609.2" y="840.5" font-size="28" text-anchor="middle" fill="#111">0.04</text>
<text x="1687.7" y="840.5" font-size="28" text-anchor="middle" fill="#111">0.06</text>
<text x="1766.2" y="840.5" font-size="28" text-anchor="middle" fill="#111">0.08</text>
<text x="1844.7" y="840.5" font-size="28" text-anchor="middle" fill="#111">0.10</text>
<text x="1923.1" y="840.5" font-size="28" text-anchor="middle" fill="#111">0.12</text>
<text x="2001.6" y="840.5" font-size="28" text-anchor="middle" fill="#111">0.14</text>
<text transform="translate(1395.2,715.6) rotate(-90)" font-size="28.3" textLength="293" lengthAdjust="spacingAndGlyphs" text-anchor="middle" fill="#111">Fourier Shell Correlation</text>
<text x="1711.0" y="891.6" font-size="27" text-anchor="middle" fill="#111">1/Resolution (1/Å)</text>
<text x="1728.6" y="498.0" font-size="32.5" font-weight="700" text-anchor="middle" fill="#111">Crown A1 to A5</text>
<text x="1384.0" y="514.8" font-size="32" font-weight="700" text-anchor="start" fill="#111">f</text>
<text x="1654.5" y="759.7" font-size="28" font-weight="700" text-anchor="start" fill="#4569b0" stroke="#2a3f70" stroke-width="0.8" letter-spacing="0.6">20 Å</text>
<text x="1913.4" y="783.2" font-size="28" text-anchor="start" fill="#111">0.143</text>
<g stroke="#d5d5d5" stroke-width="2.4" fill="none">
<line x1="82.5" y1="972.7" x2="82.5" y2="1320.6"/>
<line x1="161.2" y1="972.7" x2="161.2" y2="1320.6"/>
<line x1="240.0" y1="972.7" x2="240.0" y2="1320.6"/>
<line x1="318.7" y1="972.7" x2="318.7" y2="1320.6"/>
<line x1="397.4" y1="972.7" x2="397.4" y2="1320.6"/>
<line x1="476.1" y1="972.7" x2="476.1" y2="1320.6"/>
<line x1="554.9" y1="972.7" x2="554.9" y2="1320.6"/>
<line x1="633.6" y1="972.7" x2="633.6" y2="1320.6"/>
<line x1="82.5" y1="972.7" x2="633.6" y2="972.7"/>
<line x1="82.5" y1="1022.4" x2="633.6" y2="1022.4"/>
<line x1="82.5" y1="1072.1" x2="633.6" y2="1072.1"/>
<line x1="82.5" y1="1121.8" x2="633.6" y2="1121.8"/>
<line x1="82.5" y1="1171.5" x2="633.6" y2="1171.5"/>
<line x1="82.5" y1="1221.2" x2="633.6" y2="1221.2"/>
<line x1="82.5" y1="1270.9" x2="633.6" y2="1270.9"/>
<line x1="82.5" y1="1320.6" x2="633.6" y2="1320.6"/>
</g>
<line x1="82.5" y1="1233.7" x2="534.7" y2="1233.7" stroke="#222" stroke-width="2.4" stroke-dasharray="12.19 12.69"/>
<path d="M83.6,1022.4 C99.0,1022.5 111.0,1022.1 126.4,1022.7 C135.2,1023.1 141.9,1024.2 150.6,1025.2 C157.0,1025.9 161.9,1026.9 168.3,1027.6 C172.9,1028.1 176.7,1027.1 181.2,1028.4 C185.1,1029.5 187.7,1031.5 190.9,1034.0 C194.8,1037.1 197.6,1039.8 200.6,1043.7 C204.0,1048.0 205.9,1051.8 208.6,1056.6 C211.1,1061.1 213.3,1064.6 215.1,1069.5 C217.1,1075.1 217.8,1079.8 219.1,1085.6 C220.7,1092.6 221.7,1098.0 223.2,1105.0 C224.9,1113.1 225.6,1119.6 228.0,1127.6 C229.7,1133.1 231.3,1137.3 234.5,1142.1 C235.6,1143.7 237.5,1143.9 239.3,1144.5 C241.0,1145.1 242.9,1144.0 244.1,1145.3 C246.8,1148.2 247.1,1151.6 249.0,1155.0 C251.2,1159.1 253.2,1162.2 255.4,1166.3 C257.3,1169.7 258.5,1172.5 260.3,1176.0 C262.0,1179.5 262.9,1182.4 265.1,1185.6 C267.0,1188.3 270.1,1189.1 271.5,1192.1 C273.7,1197.0 273.6,1201.4 274.8,1206.6 C275.9,1211.3 276.0,1215.1 278.0,1219.5 C279.0,1221.8 280.9,1222.8 282.8,1224.4 C284.4,1225.8 286.5,1225.8 287.7,1227.6 C290.2,1231.3 290.4,1235.0 292.5,1238.9 C294.5,1242.6 295.0,1247.2 299.0,1248.5 C302.2,1249.6 303.7,1243.4 307.0,1243.7 C311.2,1244.1 313.1,1248.0 316.7,1250.2 C320.7,1252.6 323.5,1255.2 328.0,1256.6 C330.3,1257.3 332.4,1255.0 334.7,1255.8 C337.8,1256.9 338.7,1260.6 341.8,1261.6 C344.5,1262.5 346.8,1260.1 349.6,1260.7 C353.4,1261.5 355.5,1265.7 359.4,1265.5 C364.1,1265.3 366.4,1259.9 371.1,1259.7 C375.7,1259.5 378.4,1265.3 382.9,1264.6 C388.7,1263.7 390.8,1256.6 396.6,1255.8 C400.1,1255.3 401.1,1260.4 404.4,1261.6 C407.1,1262.6 409.9,1260.1 412.3,1261.6 C415.7,1263.7 415.2,1269.6 419.1,1270.4 C423.9,1271.4 426.9,1266.2 431.8,1265.5 C435.1,1265.1 437.9,1269.1 440.7,1267.5 C445.1,1265.0 444.0,1258.2 448.5,1255.8 C451.4,1254.2 454.3,1257.3 457.3,1258.7 C461.0,1260.5 463.0,1263.9 467.1,1264.6 C471.3,1265.4 474.5,1262.4 478.8,1262.6 C483.9,1262.8 487.8,1263.9 492.6,1265.5 C496.3,1266.7 498.5,1271.1 502.3,1270.4 C507.5,1269.5 509.2,1263.6 514.1,1261.6 C518.0,1260.0 521.7,1261.5 525.8,1260.7 C530.9,1259.7 534.4,1256.4 539.6,1256.7 C547.6,1257.1 553.1,1262.1 561.1,1262.6 C565.6,1262.9 568.4,1258.2 572.9,1258.7 C576.4,1259.1 577.6,1262.9 580.7,1264.6 C583.3,1266.0 585.7,1266.2 588.5,1267.1" fill="none" stroke="#4569b0" stroke-width="6.3" stroke-linejoin="round" stroke-linecap="butt"/>
<text x="75.5" y="1033.3" font-size="28" text-anchor="end" fill="#111">1</text>
<text x="75.5" y="1082.5" font-size="28" text-anchor="end" fill="#111">0.8</text>
<text x="75.5" y="1131.7" font-size="28" text-anchor="end" fill="#111">0.6</text>
<text x="75.5" y="1180.8" font-size="28" text-anchor="end" fill="#111">0.4</text>
<text x="75.5" y="1229.2" font-size="28" text-anchor="end" fill="#111">0.2</text>
<text x="74.7" y="1278.3" font-size="28" text-anchor="end" fill="#111">0</text>
<text x="89.2" y="1293.4" font-size="28" text-anchor="middle" fill="#111">0</text>
<text x="168.8" y="1294.4" font-size="28" text-anchor="middle" fill="#111">0.02</text>
<text x="247.6" y="1294.4" font-size="28" text-anchor="middle" fill="#111">0.04</text>
<text x="326.3" y="1294.4" font-size="28" text-anchor="middle" fill="#111">0.06</text>
<text x="405.0" y="1294.4" font-size="28" text-anchor="middle" fill="#111">0.08</text>
<text x="483.7" y="1294.4" font-size="28" text-anchor="middle" fill="#111">0.10</text>
<text x="562.5" y="1294.4" font-size="28" text-anchor="middle" fill="#111">0.12</text>
<text x="641.2" y="1294.4" font-size="28" text-anchor="middle" fill="#111">0.14</text>
<text transform="translate(33.6,1167.0) rotate(-90)" font-size="28.3" textLength="293" lengthAdjust="spacingAndGlyphs" text-anchor="middle" fill="#111">Fourier Shell Correlation</text>
<text x="348.6" y="1350.5" font-size="27" text-anchor="middle" fill="#111">1/Resolution (1/Å)</text>
<text x="365.8" y="953.1" font-size="32.5" font-weight="700" text-anchor="middle" fill="#111">Crown A5 to A7</text>
<text x="9.5" y="966.0" font-size="32" font-weight="700" text-anchor="start" fill="#111">g</text>
<text x="311.9" y="1209.8" font-size="28" font-weight="700" text-anchor="start" fill="#4569b0" stroke="#2a3f70" stroke-width="0.8" letter-spacing="0.6">19.3 Å</text>
<text x="547.3" y="1241.1" font-size="28" text-anchor="start" fill="#111">0.143</text>
<g stroke="#d5d5d5" stroke-width="2.4" fill="none">
<line x1="753.6" y1="971.6" x2="753.6" y2="1324.2"/>
<line x1="832.3" y1="971.6" x2="832.3" y2="1324.2"/>
<line x1="911.0" y1="971.6" x2="911.0" y2="1324.2"/>
<line x1="989.7" y1="971.6" x2="989.7" y2="1324.2"/>
<line x1="1068.4" y1="971.6" x2="1068.4" y2="1324.2"/>
<line x1="1147.1" y1="971.6" x2="1147.1" y2="1324.2"/>
<line x1="1225.8" y1="971.6" x2="1225.8" y2="1324.2"/>
<line x1="1304.5" y1="971.6" x2="1304.5" y2="1324.2"/>
<line x1="753.6" y1="971.6" x2="1304.5" y2="971.6"/>
<line x1="753.6" y1="1022.0" x2="1304.5" y2="1022.0"/>
<line x1="753.6" y1="1072.3" x2="1304.5" y2="1072.3"/>
<line x1="753.6" y1="1122.7" x2="1304.5" y2="1122.7"/>
<line x1="753.6" y1="1173.1" x2="1304.5" y2="1173.1"/>
<line x1="753.6" y1="1223.5" x2="1304.5" y2="1223.5"/>
<line x1="753.6" y1="1273.8" x2="1304.5" y2="1273.8"/>
<line x1="753.6" y1="1324.2" x2="1304.5" y2="1324.2"/>
</g>
<line x1="753.6" y1="1234.1" x2="1206.6" y2="1234.1" stroke="#222" stroke-width="2.4" stroke-dasharray="12.19 12.69"/>
<path d="M755.3,1021.9 C760.8,1021.9 765.1,1021.2 770.6,1021.9 C775.1,1022.5 778.2,1025.4 782.7,1025.6 C786.6,1025.8 789.3,1023.2 793.2,1023.1 C800.2,1023.0 805.5,1024.5 812.5,1025.2 C818.3,1025.8 823.1,1025.0 828.6,1026.8 C833.2,1028.3 835.4,1032.4 839.9,1034.0 C842.9,1035.1 846.0,1032.5 848.8,1034.0 C853.0,1036.3 854.3,1040.4 857.7,1043.7 C859.8,1045.7 862.7,1046.0 864.1,1048.5 C867.5,1054.4 868.1,1060.0 870.6,1066.3 C872.7,1071.6 875.1,1075.4 877.0,1080.8 C879.2,1087.0 880.8,1092.0 881.9,1098.5 C883.7,1108.9 883.4,1117.2 885.1,1127.6 C886.9,1138.7 888.9,1147.2 891.5,1158.2 C893.6,1167.0 895.4,1173.8 898.0,1182.4 C900.3,1190.1 901.9,1196.2 905.3,1203.4 C907.7,1208.5 911.6,1211.3 914.1,1216.3 C916.6,1221.2 916.9,1225.7 919.0,1230.8 C919.5,1232.1 920.1,1234.6 921.4,1234.0 C923.8,1232.8 922.7,1228.1 925.4,1227.6 C927.8,1227.2 929.3,1230.2 930.3,1232.4 C932.8,1237.9 931.0,1244.0 935.1,1248.5 C936.9,1250.5 938.7,1245.5 940.7,1243.7 C942.2,1242.3 942.9,1238.8 944.8,1239.7 C948.4,1241.3 948.6,1245.6 951.2,1248.5 C953.8,1251.4 956.5,1253.0 959.3,1255.8 C961.8,1258.3 962.5,1261.7 965.7,1263.1 C968.4,1264.3 970.9,1262.6 973.8,1262.3 C976.7,1262.0 979.1,1262.2 981.9,1261.5 C985.0,1260.7 987.6,1256.2 990.0,1258.2 C994.3,1261.7 990.1,1273.5 995.6,1272.7 C1001.7,1271.8 998.3,1262.0 1001.2,1256.6 C1002.4,1254.4 1004.2,1251.4 1006.5,1252.2 C1010.1,1253.5 1009.4,1258.8 1012.7,1260.7 C1014.3,1261.7 1015.8,1258.1 1017.6,1258.7 C1021.7,1260.0 1024.3,1262.5 1027.4,1265.5 C1031.0,1268.9 1031.7,1274.2 1036.2,1276.3 C1038.5,1277.4 1039.6,1272.8 1042.1,1272.4 C1044.0,1272.1 1045.2,1275.0 1047.0,1274.4 C1051.1,1273.0 1052.5,1268.1 1056.8,1267.5 C1059.3,1267.2 1059.2,1272.6 1061.7,1272.4 C1064.9,1272.1 1065.3,1266.2 1068.5,1266.5 C1074.2,1267.1 1076.7,1273.0 1082.3,1274.4 C1085.8,1275.3 1089.3,1274.7 1092.0,1272.4 C1095.8,1269.3 1094.2,1261.9 1098.9,1260.7 C1103.0,1259.7 1104.1,1266.2 1107.7,1268.5 C1110.9,1270.5 1113.7,1272.4 1117.5,1272.4 C1120.6,1272.4 1122.2,1269.0 1125.3,1268.5 C1129.5,1267.9 1132.9,1270.1 1137.1,1269.5 C1140.2,1269.0 1141.7,1265.7 1144.9,1265.5 C1149.3,1265.3 1152.7,1266.7 1156.7,1268.5 C1159.2,1269.6 1159.9,1274.1 1162.6,1273.4 C1167.2,1272.3 1167.6,1264.9 1172.3,1264.6 C1176.3,1264.4 1176.6,1270.6 1180.2,1272.4 C1184.0,1274.3 1187.8,1275.5 1191.9,1274.4 C1195.3,1273.5 1195.3,1267.3 1198.8,1267.5 C1202.5,1267.7 1201.9,1275.3 1205.6,1275.3 C1209.9,1275.3 1210.3,1268.3 1214.5,1267.5 C1218.5,1266.7 1221.1,1271.6 1225.2,1271.4 C1230.4,1271.2 1233.7,1267.0 1238.9,1266.5 C1241.9,1266.2 1243.8,1269.4 1246.8,1269.5 C1251.4,1269.7 1254.9,1268.2 1259.5,1267.5" fill="none" stroke="#4569b0" stroke-width="6.3" stroke-linejoin="round" stroke-linecap="butt"/>
<text x="750.3" y="1031.0" font-size="28" text-anchor="end" fill="#111">1</text>
<text x="750.3" y="1080.1" font-size="28" text-anchor="end" fill="#111">0.8</text>
<text x="750.3" y="1130.1" font-size="28" text-anchor="end" fill="#111">0.6</text>
<text x="750.3" y="1178.4" font-size="28" text-anchor="end" fill="#111">0.4</text>
<text x="750.3" y="1226.8" font-size="28" text-anchor="end" fill="#111">0.2</text>
<text x="748.7" y="1276.7" font-size="28" text-anchor="end" fill="#111">0</text>
<text x="752.5" y="1295.7" font-size="28" text-anchor="middle" fill="#111">0</text>
<text x="831.6" y="1296.4" font-size="28" text-anchor="middle" fill="#111">0.02</text>
<text x="910.3" y="1296.4" font-size="28" text-anchor="middle" fill="#111">0.04</text>
<text x="989.0" y="1296.4" font-size="28" text-anchor="middle" fill="#111">0.06</text>
<text x="1067.7" y="1296.4" font-size="28" text-anchor="middle" fill="#111">0.08</text>
<text x="1146.4" y="1296.4" font-size="28" text-anchor="middle" fill="#111">0.10</text>
<text x="1225.1" y="1296.4" font-size="28" text-anchor="middle" fill="#111">0.12</text>
<text x="1303.8" y="1296.4" font-size="28" text-anchor="middle" fill="#111">0.14</text>
<text transform="translate(702.0,1171.4) rotate(-90)" font-size="28.3" textLength="293" lengthAdjust="spacingAndGlyphs" text-anchor="middle" fill="#111">Fourier Shell Correlation</text>
<text x="1012.7" y="1349.4" font-size="27" text-anchor="middle" fill="#111">1/Resolution (1/Å)</text>
<text x="1052.9" y="953.1" font-size="32.5" font-weight="700" text-anchor="middle" fill="#111">Crown A8 to A12</text>
<text x="680.3" y="970.7" font-size="32" font-weight="700" text-anchor="start" fill="#111">h</text>
<text x="937.5" y="1211.5" font-size="28" font-weight="700" text-anchor="start" fill="#4569b0" stroke="#2a3f70" stroke-width="0.8" letter-spacing="0.6">22.2 Å</text>
<text x="1218.2" y="1244.0" font-size="28" text-anchor="start" fill="#111">0.143</text>
<g stroke="#d5d5d5" stroke-width="2.4" fill="none">
<line x1="1447.0" y1="974.4" x2="1447.0" y2="1321.6"/>
<line x1="1525.8" y1="974.4" x2="1525.8" y2="1321.6"/>
<line x1="1604.6" y1="974.4" x2="1604.6" y2="1321.6"/>
<line x1="1683.4" y1="974.4" x2="1683.4" y2="1321.6"/>
<line x1="1762.3" y1="974.4" x2="1762.3" y2="1321.6"/>
<line x1="1841.1" y1="974.4" x2="1841.1" y2="1321.6"/>
<line x1="1919.9" y1="974.4" x2="1919.9" y2="1321.6"/>
<line x1="1998.7" y1="974.4" x2="1998.7" y2="1321.6"/>
<line x1="1447.0" y1="974.4" x2="1998.7" y2="974.4"/>
<line x1="1447.0" y1="1024.0" x2="1998.7" y2="1024.0"/>
<line x1="1447.0" y1="1073.6" x2="1998.7" y2="1073.6"/>
<line x1="1447.0" y1="1123.2" x2="1998.7" y2="1123.2"/>
<line x1="1447.0" y1="1172.8" x2="1998.7" y2="1172.8"/>
<line x1="1447.0" y1="1222.4" x2="1998.7" y2="1222.4"/>
<line x1="1447.0" y1="1272.0" x2="1998.7" y2="1272.0"/>
<line x1="1447.0" y1="1321.6" x2="1998.7" y2="1321.6"/>
</g>
<line x1="1447.0" y1="1233.9" x2="1897.8" y2="1233.9" stroke="#222" stroke-width="2.4" stroke-dasharray="12.21 12.70"/>
<path d="M1448.1,1024.0 C1453.9,1024.3 1458.4,1024.1 1464.2,1024.7 C1468.6,1025.1 1471.9,1026.7 1476.3,1026.8 C1479.6,1026.9 1482.0,1025.4 1485.2,1025.2 C1490.4,1024.8 1494.5,1024.7 1499.7,1025.2 C1504.4,1025.6 1508.0,1026.7 1512.6,1027.6 C1516.7,1028.4 1519.9,1028.8 1523.9,1030.0 C1526.9,1030.9 1528.9,1032.5 1531.9,1033.2 C1534.7,1033.9 1537.2,1033.1 1540.0,1034.0 C1542.9,1034.9 1545.6,1035.6 1547.3,1038.1 C1549.9,1041.9 1549.3,1046.1 1551.3,1050.2 C1552.5,1052.8 1554.3,1054.4 1556.1,1056.6 C1558.9,1060.2 1561.7,1062.5 1564.2,1066.3 C1566.4,1069.5 1567.8,1072.3 1569.0,1076.0 C1571.3,1082.8 1572.6,1088.2 1573.9,1095.3 C1575.6,1104.5 1575.8,1111.8 1577.1,1121.1 C1578.4,1130.4 1579.2,1137.7 1581.1,1146.9 C1582.1,1151.7 1583.6,1155.2 1585.2,1159.8 C1586.5,1163.4 1588.3,1165.8 1589.2,1169.5 C1590.9,1176.9 1591.2,1183.0 1592.4,1190.5 C1593.5,1196.9 1594.3,1201.9 1595.6,1208.2 C1596.6,1212.9 1596.0,1217.3 1598.9,1221.1 C1600.0,1222.6 1601.5,1219.1 1602.9,1217.9 C1604.6,1216.5 1605.6,1213.1 1607.7,1213.9 C1610.5,1214.9 1610.7,1218.3 1611.8,1221.1 C1613.4,1225.0 1613.6,1228.4 1615.0,1232.4 C1616.2,1235.7 1616.7,1238.6 1619.0,1241.3 C1620.2,1242.7 1622.2,1242.1 1623.9,1242.9 C1626.0,1243.9 1627.2,1245.9 1629.5,1246.1 C1631.7,1246.3 1633.1,1242.9 1635.2,1243.7 C1637.9,1244.8 1638.3,1247.8 1640.0,1250.2 C1641.8,1252.8 1642.6,1255.2 1644.8,1257.4 C1646.2,1258.8 1648.1,1258.7 1649.7,1259.8 C1652.1,1261.4 1653.4,1263.7 1656.1,1264.7 C1657.8,1265.3 1659.3,1263.2 1661.0,1263.9 C1663.3,1264.8 1663.7,1267.5 1665.8,1268.7 C1667.9,1269.9 1670.0,1269.7 1672.3,1270.3 C1675.2,1271.1 1677.4,1273.4 1680.3,1272.7 C1684.4,1271.8 1685.9,1267.2 1690.0,1266.3 C1693.0,1265.6 1695.5,1270.3 1698.1,1268.7 C1702.5,1266.0 1701.4,1259.1 1706.0,1256.7 C1708.4,1255.4 1709.9,1259.7 1711.8,1261.6 C1714.1,1263.9 1715.2,1266.4 1717.6,1268.5 C1720.5,1271.0 1722.6,1274.8 1726.4,1274.4 C1730.7,1273.9 1731.1,1267.1 1735.3,1266.5 C1740.5,1265.8 1743.8,1271.8 1749.0,1271.4 C1754.5,1271.0 1757.3,1265.4 1762.7,1264.6 C1767.0,1263.9 1770.1,1267.7 1774.4,1267.5 C1776.9,1267.4 1777.8,1263.0 1780.3,1263.6 C1783.4,1264.4 1783.2,1269.1 1786.2,1270.4 C1789.4,1271.8 1792.7,1269.2 1796.0,1270.4 C1798.8,1271.5 1798.9,1277.0 1801.8,1276.3 C1806.6,1275.1 1807.0,1268.5 1811.6,1266.5 C1814.8,1265.0 1817.9,1267.9 1821.4,1267.5 C1824.1,1267.2 1825.7,1263.9 1828.3,1264.6 C1832.9,1265.9 1834.3,1272.6 1839.1,1272.4 C1843.8,1272.2 1844.3,1264.9 1848.8,1263.6 C1851.9,1262.7 1854.3,1265.4 1856.7,1267.5 C1859.7,1270.1 1859.7,1275.1 1863.5,1276.3 C1866.8,1277.3 1869.1,1273.7 1872.3,1272.4 C1875.8,1270.9 1878.3,1268.6 1882.1,1268.5 C1888.6,1268.3 1893.7,1269.4 1899.8,1271.4 C1904.4,1272.9 1906.7,1277.6 1911.5,1278.3 C1915.3,1278.8 1917.5,1274.1 1921.3,1274.4 C1926.0,1274.8 1928.5,1281.4 1933.1,1280.2 C1938.9,1278.7 1939.7,1271.5 1944.8,1268.5 C1947.9,1266.7 1951.1,1267.9 1954.6,1267.5" fill="none" stroke="#4569b0" stroke-width="6.3" stroke-linejoin="round" stroke-linecap="butt"/>
<text x="1441.1" y="1031.8" font-size="28" text-anchor="end" fill="#111">1</text>
<text x="1441.1" y="1080.9" font-size="28" text-anchor="end" fill="#111">0.8</text>
<text x="1441.1" y="1130.9" font-size="28" text-anchor="end" fill="#111">0.6</text>
<text x="1441.1" y="1179.2" font-size="28" text-anchor="end" fill="#111">0.4</text>
<text x="1441.1" y="1227.6" font-size="28" text-anchor="end" fill="#111">0.2</text>
<text x="1439.5" y="1277.5" font-size="28" text-anchor="end" fill="#111">0</text>
<text x="1447.6" y="1295.0" font-size="28" text-anchor="middle" fill="#111">0</text>
<text x="1526.3" y="1298.3" font-size="28" text-anchor="middle" fill="#111">0.02</text>
<text x="1605.1" y="1298.3" font-size="28" text-anchor="middle" fill="#111">0.04</text>
<text x="1683.9" y="1298.3" font-size="28" text-anchor="middle" fill="#111">0.06</text>
<text x="1762.8" y="1298.3" font-size="28" text-anchor="middle" fill="#111">0.08</text>
<text x="1841.6" y="1298.3" font-size="28" text-anchor="middle" fill="#111">0.10</text>
<text x="1920.4" y="1298.3" font-size="28" text-anchor="middle" fill="#111">0.12</text>
<text x="1999.2" y="1298.3" font-size="28" text-anchor="middle" fill="#111">0.14</text>
<text transform="translate(1396.8,1169.0) rotate(-90)" font-size="28.3" textLength="293" lengthAdjust="spacingAndGlyphs" text-anchor="middle" fill="#111">Fourier Shell Correlation</text>
<text x="1707.5" y="1345.5" font-size="27" text-anchor="middle" fill="#111">1/Resolution (1/Å)</text>
<text x="1723.0" y="953.1" font-size="32.5" font-weight="700" text-anchor="middle" fill="#111">Crown A11 to A15</text>
<text x="1376.0" y="968.8" font-size="32" font-weight="700" text-anchor="start" fill="#111">i</text>
<text x="1629.5" y="1210.6" font-size="28" font-weight="700" text-anchor="start" fill="#4569b0" stroke="#2a3f70" stroke-width="0.8" letter-spacing="0.6">23.6 Å</text>
<text x="1908.5" y="1242.0" font-size="28" text-anchor="start" fill="#111">0.143</text>
<g stroke="#d5d5d5" stroke-width="2.4" fill="none">
<line x1="83.8" y1="1425.9" x2="83.8" y2="1777.5"/>
<line x1="161.9" y1="1425.9" x2="161.9" y2="1777.5"/>
<line x1="240.0" y1="1425.9" x2="240.0" y2="1777.5"/>
<line x1="318.1" y1="1425.9" x2="318.1" y2="1777.5"/>
<line x1="396.3" y1="1425.9" x2="396.3" y2="1777.5"/>
<line x1="474.4" y1="1425.9" x2="474.4" y2="1777.5"/>
<line x1="552.5" y1="1425.9" x2="552.5" y2="1777.5"/>
<line x1="630.6" y1="1425.9" x2="630.6" y2="1777.5"/>
<line x1="83.8" y1="1425.9" x2="630.6" y2="1425.9"/>
<line x1="83.8" y1="1476.1" x2="630.6" y2="1476.1"/>
<line x1="83.8" y1="1526.4" x2="630.6" y2="1526.4"/>
<line x1="83.8" y1="1576.6" x2="630.6" y2="1576.6"/>
<line x1="83.8" y1="1626.8" x2="630.6" y2="1626.8"/>
<line x1="83.8" y1="1677.0" x2="630.6" y2="1677.0"/>
<line x1="83.8" y1="1727.3" x2="630.6" y2="1727.3"/>
<line x1="83.8" y1="1777.5" x2="630.6" y2="1777.5"/>
</g>
<line x1="83.8" y1="1688.6" x2="536.6" y2="1688.6" stroke="#222" stroke-width="2.4" stroke-dasharray="12.10 12.59"/>
<path d="M86.1,1476.1 C100.6,1476.4 111.9,1476.6 126.4,1476.9 C140.9,1477.2 152.2,1477.3 166.7,1477.7 C172.5,1477.9 177.0,1478.0 182.8,1478.5 C189.8,1479.2 195.5,1478.9 202.2,1481.0 C206.2,1482.2 208.8,1484.6 211.9,1487.4 C215.8,1491.0 218.3,1494.4 221.5,1498.7 C224.4,1502.6 227.2,1505.4 228.8,1510.0 C231.0,1516.1 231.0,1521.3 232.0,1527.7 C233.1,1534.7 233.5,1540.1 234.5,1547.1 C235.3,1552.9 234.7,1557.8 236.9,1563.2 C237.4,1564.5 239.5,1563.1 240.9,1563.2 C243.3,1563.4 245.2,1563.0 247.4,1564.0 C250.1,1565.2 251.3,1567.4 253.8,1568.9 C255.7,1570.1 257.3,1571.3 259.5,1571.3 C261.7,1571.3 263.1,1567.9 265.1,1568.9 C267.8,1570.2 268.0,1573.4 269.1,1576.1 C271.5,1581.8 272.9,1586.4 274.8,1592.3 C277.2,1599.8 279.1,1605.6 281.2,1613.2 C283.1,1620.1 284.6,1625.6 286.1,1632.6 C287.5,1638.9 288.1,1643.9 289.3,1650.3 C290.4,1656.1 289.8,1661.2 292.5,1666.5 C293.5,1668.4 296.8,1666.5 298.2,1668.1 C300.7,1670.9 301.1,1674.1 302.2,1677.7 C304.2,1684.0 305.2,1689.1 307.0,1695.5 C308.4,1700.2 308.9,1704.0 311.1,1708.4 C311.9,1710.0 313.3,1711.3 315.1,1711.6 C317.4,1712.0 319.2,1709.6 321.5,1710.0 C324.2,1710.5 325.6,1712.7 328.0,1714.0 C330.8,1715.4 332.8,1717.6 335.9,1717.5 C339.0,1717.4 340.6,1713.8 343.7,1713.6 C348.1,1713.4 351.1,1716.5 355.5,1716.5 C358.2,1716.5 359.7,1713.1 362.3,1713.6 C365.7,1714.3 366.6,1718.8 370.1,1719.5 C372.8,1720.0 374.4,1715.8 377.0,1716.5 C380.6,1717.5 381.1,1722.9 384.8,1723.4 C388.1,1723.8 389.4,1719.2 392.7,1718.5 C394.8,1718.0 396.6,1719.3 398.5,1720.4 C402.3,1722.5 404.4,1725.4 408.3,1727.3 C411.6,1728.9 414.4,1729.8 418.1,1730.2 C420.9,1730.5 423.8,1731.2 426.0,1729.3 C429.4,1726.4 427.9,1720.5 431.8,1718.5 C435.6,1716.6 439.4,1719.5 443.6,1720.4 C447.9,1721.3 451.0,1723.2 455.3,1723.4 C457.5,1723.5 459.0,1720.9 461.2,1721.4 C464.5,1722.1 465.8,1725.7 469.1,1726.3 C471.9,1726.8 474.3,1725.7 476.9,1724.4 C480.0,1722.8 481.3,1719.4 484.7,1718.5 C490.8,1716.8 496.0,1717.2 502.3,1717.5 C508.7,1717.8 513.5,1720.6 520.0,1720.4 C523.8,1720.3 526.0,1716.0 529.8,1716.5 C534.0,1717.1 535.5,1722.0 539.6,1723.0 C545.1,1724.3 549.8,1723.8 555.2,1722.4 C559.2,1721.4 560.9,1717.0 565.0,1716.5 C568.1,1716.1 570.1,1718.9 572.8,1720.4 C575.7,1722.0 577.6,1724.1 580.7,1725.3 C583.0,1726.2 585.1,1725.9 587.5,1726.3" fill="none" stroke="#4569b0" stroke-width="6.3" stroke-linejoin="round" stroke-linecap="butt"/>
<text x="81.1" y="1487.6" font-size="28" text-anchor="end" fill="#111">1</text>
<text x="81.1" y="1536.7" font-size="28" text-anchor="end" fill="#111">0.8</text>
<text x="81.1" y="1585.9" font-size="28" text-anchor="end" fill="#111">0.6</text>
<text x="81.1" y="1635.0" font-size="28" text-anchor="end" fill="#111">0.4</text>
<text x="81.1" y="1684.2" font-size="28" text-anchor="end" fill="#111">0.2</text>
<text x="79.5" y="1734.1" font-size="28" text-anchor="end" fill="#111">0</text>
<text x="86.8" y="1752.3" font-size="28" text-anchor="middle" fill="#111">0</text>
<text x="165.8" y="1752.3" font-size="28" text-anchor="middle" fill="#111">0.02</text>
<text x="244.6" y="1752.3" font-size="28" text-anchor="middle" fill="#111">0.04</text>
<text x="323.4" y="1752.3" font-size="28" text-anchor="middle" fill="#111">0.06</text>
<text x="402.1" y="1752.3" font-size="28" text-anchor="middle" fill="#111">0.08</text>
<text x="480.9" y="1752.3" font-size="28" text-anchor="middle" fill="#111">0.10</text>
<text x="559.7" y="1752.3" font-size="28" text-anchor="middle" fill="#111">0.12</text>
<text x="638.5" y="1752.3" font-size="28" text-anchor="middle" fill="#111">0.14</text>
<text transform="translate(24.9,1629.2) rotate(-90)" font-size="28.3" textLength="293" lengthAdjust="spacingAndGlyphs" text-anchor="middle" fill="#111">Fourier Shell Correlation</text>
<text x="347.5" y="1804.0" font-size="27" text-anchor="middle" fill="#111">1/Resolution (1/Å)</text>
<text x="396.0" y="1402.5" font-size="32.5" font-weight="700" text-anchor="middle" fill="#111">Crowns 3, 1, and 2 (from A15 to A29)</text>
<text x="7.5" y="1416.0" font-size="32" font-weight="700" text-anchor="start" fill="#111">j</text>
<text x="317.5" y="1668.3" font-size="28" font-weight="700" text-anchor="start" fill="#4569b0" stroke="#2a3f70" stroke-width="0.8" letter-spacing="0.6">18 Å</text>
<text x="550.2" y="1693.0" font-size="28" text-anchor="start" fill="#111">0.143</text>
<text x="8.0" y="1844.7" font-size="32" font-weight="700" text-anchor="start" fill="#111">k</text>
<g stroke="#1e1e1e" stroke-width="2" fill="none">
<rect x="18.7" y="1874.0" width="1471.1" height="643.0"/>
<line x1="18.7" y1="1954.5" x2="1489.8" y2="1954.5"/>
<line x1="18.7" y1="2034.4" x2="1489.8" y2="2034.4"/>
<line x1="18.7" y1="2115.0" x2="1489.8" y2="2115.0"/>
<line x1="18.7" y1="2194.7" x2="1489.8" y2="2194.7"/>
<line x1="18.7" y1="2275.3" x2="1489.8" y2="2275.3"/>
<line x1="18.7" y1="2355.7" x2="1489.8" y2="2355.7"/>
<line x1="18.7" y1="2436.3" x2="1489.8" y2="2436.3"/>
<line x1="541.9" y1="1954.5" x2="541.9" y2="2517.0"/>
<line x1="1272.2" y1="1954.5" x2="1272.2" y2="2517.0"/>
<line x1="731.8" y1="1995.2" x2="731.8" y2="2517.0"/>
<line x1="912.7" y1="1995.2" x2="912.7" y2="2517.0"/>
<line x1="1094.8" y1="1995.2" x2="1094.8" y2="2517.0"/>
<line x1="1377.6" y1="1995.2" x2="1377.6" y2="2517.0"/>
</g>
<text x="791.0" y="1923.5" font-size="28.4" font-weight="700" text-anchor="middle" fill="#111">ABBREVIATIONS AND COLOR CODE</text>
<text x="272.6" y="2005.2" font-size="28.2" font-weight="700" text-anchor="middle" fill="#111">Description</text>
<text x="909.6" y="1984.6" font-size="28.2" font-weight="700" text-anchor="middle" fill="#111">Nomenclatures</text>
<text x="1372.2" y="1984.0" font-size="28.2" font-weight="700" text-anchor="middle" fill="#111">Color code</text>
<text x="637.8" y="2024.6" font-size="28.2" font-weight="700" text-anchor="middle" fill="#111">(A)</text>
<text x="827.4" y="2024.6" font-size="28.2" font-weight="700" text-anchor="middle" fill="#111">(B)</text>
<text x="1005.6" y="2024.6" font-size="28.2" font-weight="700" text-anchor="middle" fill="#111">(C-E)</text>
<text x="1176.8" y="2024.6" font-size="28.2" font-weight="700" text-anchor="middle" fill="#111">(F)</text>
<text x="1328.2" y="2024.6" font-size="28.2" font-weight="700" text-anchor="middle" fill="#111">(A)</text>
<text x="1425.4" y="2024.6" font-size="28.2" font-weight="700" text-anchor="middle" fill="#111">(B)</text>
<text x="266.2" y="2071.3" font-size="28.4" text-anchor="middle" fill="#111">First crown of the 43 nm repeat</text>
<text x="269.4" y="2105.2" font-size="28.4" text-anchor="middle" fill="#111">(from the M-line)</text>
<text x="265.7" y="2147.1" font-size="28.4" text-anchor="middle" fill="#111">Second crown of the 43 nm repeat</text>
<text x="269.4" y="2181.0" font-size="28.4" text-anchor="middle" fill="#111">(from the M-line)</text>
<text x="266.1" y="2231.0" font-size="28.4" text-anchor="middle" fill="#111">Third crown of the 43 nm repeat</text>
<text x="269.4" y="2265.5" font-size="28.4" text-anchor="middle" fill="#111">(from the M-line)</text>
<text x="269.4" y="2326.8" font-size="28.4" text-anchor="middle" fill="#111">Titin chain running through the M-band</text>
<text x="269.4" y="2407.4" font-size="28.4" text-anchor="middle" fill="#111">Titin chain stopping in the P-zone</text>
<text x="269.4" y="2488.0" font-size="28.4" text-anchor="middle" fill="#111">cMyBP-C</text>
<text x="631.4" y="2088.2" font-size="28.4" text-anchor="middle" fill="#111">Crown 1</text>
<text x="816.5" y="2088.2" font-size="28.4" text-anchor="middle" fill="#111">CrH</text>
<text x="1002.0" y="2088.2" font-size="28.4" text-anchor="middle" fill="#111">Crown 1</text>
<text x="1181.4" y="2087.6" font-size="28.4" text-anchor="middle" fill="#111">Crown 1</text>
<text x="631.4" y="2168.0" font-size="28.4" text-anchor="middle" fill="#111">Crown 2</text>
<text x="816.5" y="2168.0" font-size="28.4" text-anchor="middle" fill="#111">CrD</text>
<text x="1002.0" y="2168.0" font-size="28.4" text-anchor="middle" fill="#111">Crown 2</text>
<text x="1181.4" y="2167.6" font-size="28.4" text-anchor="middle" fill="#111">Crown 3</text>
<text x="631.4" y="2244.1" font-size="28.4" text-anchor="middle" fill="#111">Crown 3</text>
<text x="816.5" y="2244.1" font-size="28.4" text-anchor="middle" fill="#111">CrH</text>
<text x="1002.0" y="2244.1" font-size="28.4" text-anchor="middle" fill="#111">Crown 3</text>
<text x="1181.4" y="2243.9" font-size="28.4" text-anchor="middle" fill="#111">Crown 2</text>
<text x="820.7" y="2327.0" font-size="28.4" text-anchor="middle" fill="#111">Titin A (TA)</text>
<text x="820.7" y="2412.2" font-size="28.4" text-anchor="middle" fill="#111">Titin B (TB)</text>
<text x="641.1" y="2492.4" font-size="28.4" text-anchor="middle" fill="#111">cMyBP-C</text>
<text x="820.5" y="2492.4" font-size="28.4" text-anchor="middle" fill="#111">cMyBP-C</text>
<text x="636.1" y="2327.0" font-size="28.4" text-anchor="middle" fill="#111">Titin alpha (<tspan font-family="'Liberation Serif', 'DejaVu Serif', serif" font-size="32.5">α</tspan>)</text>
<text x="636.2" y="2408.9" font-size="28.4" text-anchor="middle" fill="#111">Titin beta (<tspan font-family="'Liberation Serif', 'DejaVu Serif', serif" font-size="32">β</tspan>)</text>
<rect x="1298.1" y="2044.3" width="61.2" height="61.2" fill="#80d4dc" stroke="#111" stroke-width="3"/>
<rect x="1397.0" y="2044.3" width="61.2" height="61.2" fill="#00aa50" stroke="#111" stroke-width="3"/>
<rect x="1298.1" y="2125.4" width="61.2" height="61.2" fill="#80a7da" stroke="#111" stroke-width="3"/>
<rect x="1397.0" y="2125.4" width="61.2" height="61.2" fill="#ff0000" stroke="#111" stroke-width="3"/>
<rect x="1298.1" y="2205.2" width="61.2" height="61.2" fill="#80dcb8" stroke="#111" stroke-width="3"/>
<rect x="1397.0" y="2205.2" width="61.2" height="61.2" fill="#00a8ea" stroke="#111" stroke-width="3"/>
<rect x="1298.1" y="2285.2" width="61.2" height="61.2" fill="#dc5e8a" stroke="#111" stroke-width="3"/>
<rect x="1397.0" y="2285.2" width="61.2" height="61.2" fill="#ffb000" stroke="#111" stroke-width="3"/>
<rect x="1298.1" y="2365.1" width="61.2" height="61.2" fill="#e082a8" stroke="#111" stroke-width="3"/>
<rect x="1397.0" y="2365.1" width="61.2" height="61.2" fill="#ffff00" stroke="#111" stroke-width="3"/>
<rect x="1298.1" y="2445.9" width="61.2" height="61.2" fill="#dfca92" stroke="#111" stroke-width="3"/>
<rect x="1397.0" y="2445.9" width="61.2" height="61.2" fill="#ff18a8" stroke="#111" stroke-width="3"/>
<text x="1517.0" y="2057.3" font-size="30.3" font-weight="700" text-anchor="start" fill="#111">Nomenclature according to:</text>
<text x="1528.5" y="2117.0" font-size="30.5" fill="#111"><tspan font-weight="700">A.</tspan> Tamborrini et al. (2023) (this study)</text>
<text x="1528.5" y="2156.9" font-size="30.5" fill="#111"><tspan font-weight="700">B.</tspan> Dutta et al. (2023) (Ref.<tspan font-size="18" dy="-12">71</tspan><tspan dy="12">)</tspan></text>
<text x="1528.5" y="2197.9" font-size="30.5" fill="#111"><tspan font-weight="700">C.</tspan> Al-Khayat et al. (2013) (Ref.<tspan font-size="18" dy="-12">22</tspan><tspan dy="12">)</tspan></text>
<text x="1528.5" y="2238.7" font-size="30.5" fill="#111"><tspan font-weight="700">D.</tspan> Luther et al. (2011) (Ref.<tspan font-size="18" dy="-12">49</tspan><tspan dy="12">)</tspan></text>
<text x="1528.5" y="2279.1" font-size="30.5" fill="#111"><tspan font-weight="700">E.</tspan> Huang et al. (2023) (Ref.<tspan font-size="18" dy="-12">72</tspan><tspan dy="12">)</tspan></text>
<text x="1528.5" y="2320.2" font-size="30.5" fill="#111"><tspan font-weight="700">F.</tspan> Zoghbi et al. (2008) (Ref.<tspan font-size="18" dy="-12">7</tspan><tspan dy="12">)</tspan></text>
</svg>
</body></html>
